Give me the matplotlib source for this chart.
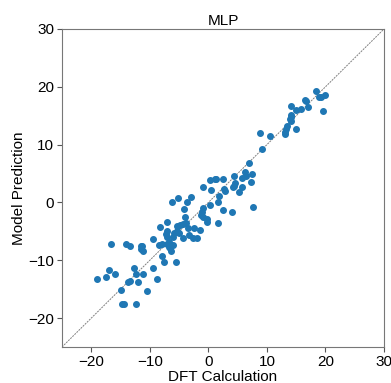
import numpy as np
import matplotlib
matplotlib.use('Agg')
import matplotlib.pyplot as plt

plt.rcParams['font.family'] = ['Liberation Sans', 'DejaVu Sans']

# DFT reference values (x) and MLP predictions (y)
dft = [18.3, 18.9, 19.3, 19.9, 16.5, 16.6, 17.1, 15.9, 14.2, 14.9, 19.5,
       14.2, 14.1, 14.0, 14.2, 13.4, 13.2, 13.1, 13.1, 14.9, 8.8, 10.6,
       9.2, 6.9, 6.3, 7.5, 4.4, 5.7, 6.4, 7.3, 4.5, 4.2, 4.4, 5.8, 5.2,
       2.5, 1.1, 0.3, 1.3, -0.9, 0.4, 2.7, 2.8, 1.9, 1.7, 0.3, 2.5, 4.0,
       7.7, -0.9, -1.1, -6.2, -5.2, -3.7, -3.0, -4.2, -1.3, -0.9, -0.3,
       -0.2, 1.6, -4.0, -7.0, -3.8, -4.3, -5.3, -4.8, -8.3, -7.0, -7.2,
       -7.1, -5.8, -5.4, -5.0, -3.4, -2.4, -1.4, -3.3, -4.4, -2.6, -1.9,
       -9.5, -6.0, -16.7, -14.0, -13.4, -11.5, -8.4, -8.0, -6.8, -6.3,
       -11.4, -11.5, -11.1, -7.0, -6.7, -6.1, -6.6, -6.3, -7.9, -7.6, -5.5,
       -9.4, -8.8, -12.7, -12.4, -11.1, -17.0, -17.5, -15.9, -19.0, -13.7,
       -13.4, -12.0, -15.0, -10.5, -14.8, -14.4, -12.3]
pred = [19.2, 18.3, 18.3, 18.6, 17.8, 17.6, 16.5, 16.2, 16.6, 16.0, 15.8,
        15.2, 14.8, 14.4, 14.1, 13.2, 12.7, 12.2, 11.8, 12.7, 12.0, 11.5,
        9.2, 6.9, 5.3, 5.0, 4.5, 4.3, 4.5, 3.5, 3.3, 2.7, 2.9, 2.6, 1.8,
        4.0, 4.0, 3.9, 4.1, 2.6, 2.1, 2.3, 1.9, 1.2, 0.1, -0.5, -1.3, -1.7,
        -0.8, -1.0, -1.6, 0.0, 0.8, 0.1, 1.0, -1.1, -2.2, -2.6, -2.9,
        -3.3, -3.6, -2.6, -3.4, -3.5, -3.8, -4.0, -3.9, -4.3, -4.9, -5.5,
        -6.0, -5.2, -4.9, -5.3, -4.4, -4.5, -4.8, -5.7, -6.2, -6.1, -6.1,
        -6.3, -6.0, -7.1, -7.2, -7.5, -7.5, -7.4, -7.1, -6.9, -7.4,
        -7.5, -8.1, -8.4, -7.1, -7.7, -7.4, -7.9, -8.4, -9.3, -10.3, -10.3,
        -11.4, -13.3, -11.4, -12.4, -12.4, -11.7, -12.9, -12.3, -13.2, -13.7,
        -13.5, -13.8, -15.2, -15.4, -17.6, -17.6, -17.6]

lims = [-25, 30]
ticks = [-20, -10, 0, 10, 20, 30]

fig = plt.figure(figsize=(3.91, 3.83), dpi=100)
ax = fig.add_axes([62/391, 1 - 347/383, 322/391, 318/383])

ax.plot(lims, lims, color='gray', lw=0.7, ls=(0, (2, 1)), zorder=1)
ax.scatter(dft, pred, s=16, color='#1f77b4', zorder=2)

ax.set_xlim(lims)
ax.set_ylim(lims)
ax.set_xticks(ticks)
ax.set_yticks(ticks)
ax.tick_params(labelsize=11, length=3.5, width=0.8, color='#555555', pad=2)
for s in ax.spines.values():
    s.set_color('#777777')
    s.set_linewidth(0.8)

ax.set_title('MLP', fontsize=11, pad=3)
ax.set_xlabel('DFT Calculation', fontsize=11, labelpad=1)
ax.set_ylabel('Model Prediction', fontsize=11, labelpad=2)

fig.savefig('out.png', dpi=100)
